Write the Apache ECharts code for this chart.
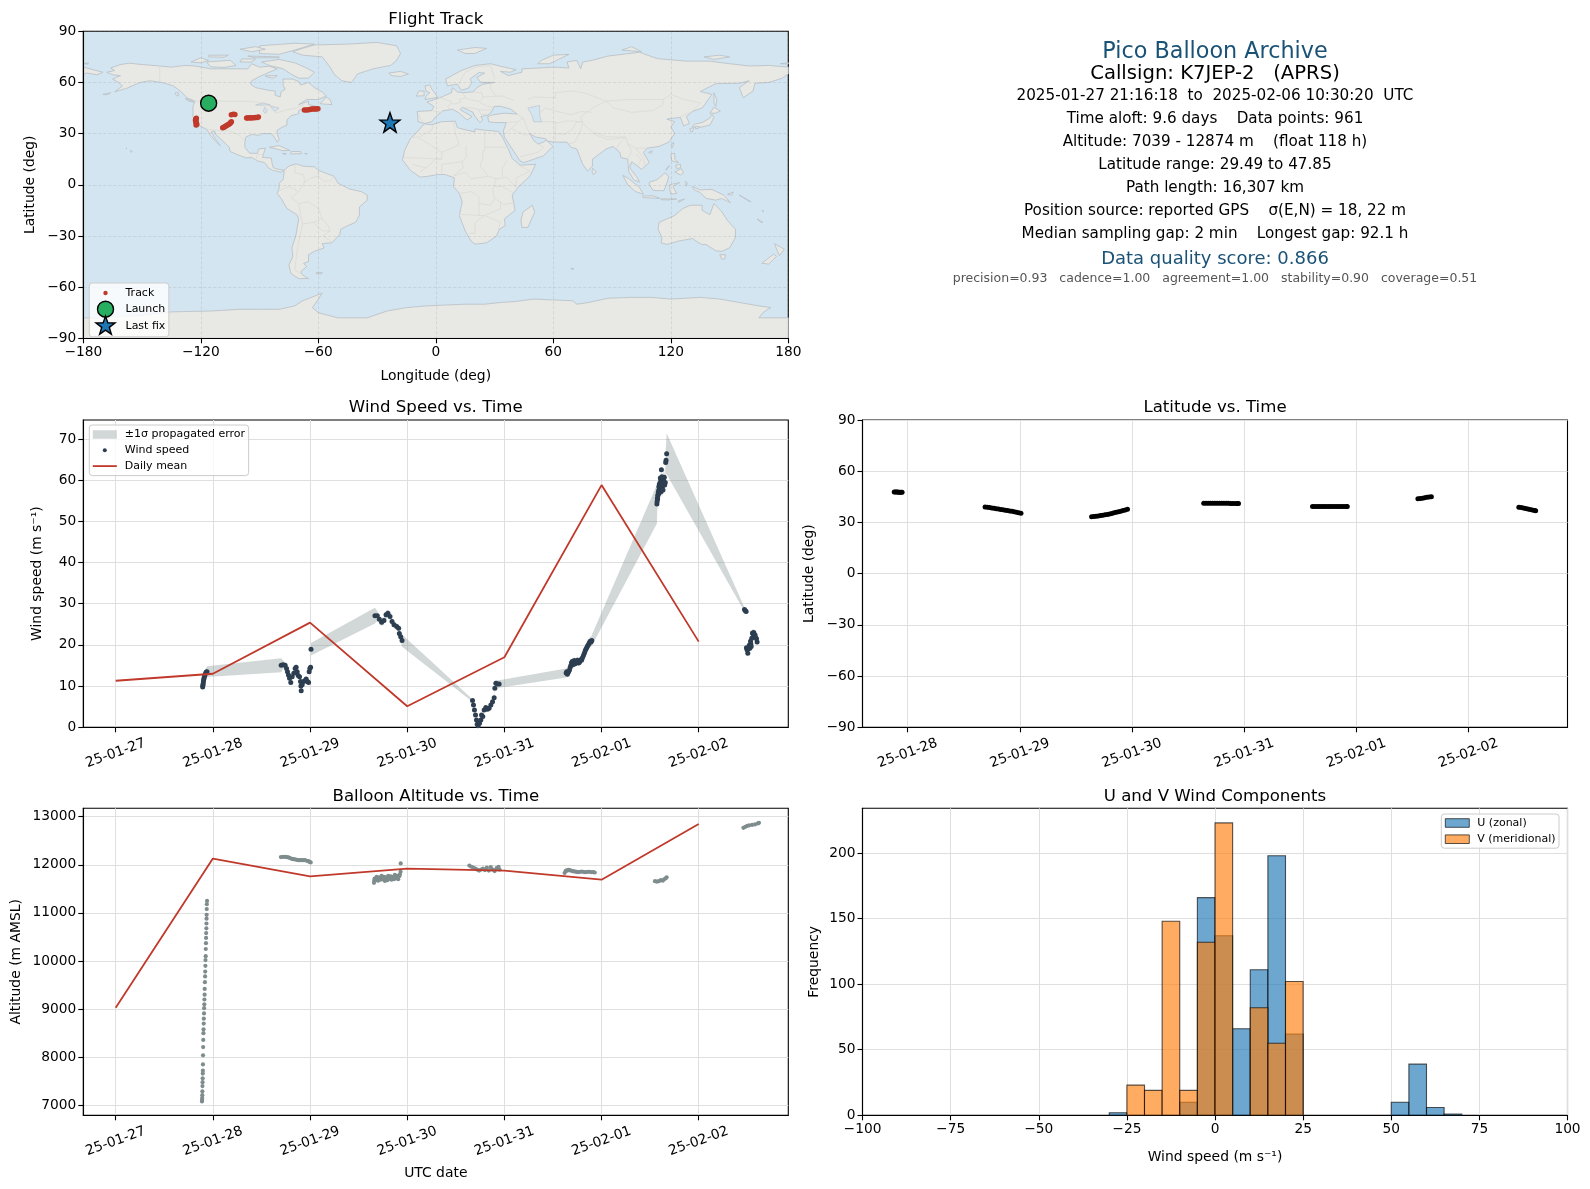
<!DOCTYPE html>
<html><head><meta charset="utf-8">
<script src="https://cdn.jsdelivr.net/npm/echarts@6/dist/echarts.min.js"></script>
<style>html,body{margin:0;padding:0;background:#fff}#c{width:1590px;height:1189px}</style>
</head><body><div id="c"></div>
<script>
// ---------- DATA ----------
const dateLabels = ['25-01-27','25-01-28','25-01-29','25-01-30','25-01-31','25-02-01','25-02-02'];
const dayTicks = [0,1,2,3,4,5,6];

const trackLon = [-122.3,-122.6,-122.7,-122.5,-122.4,-122.2,-122.1,-122.4, -108.8,-108.2,-107.6,-107,-106.4,-105.8,-105.2,-104.8,-104.4, -104.4,-103.4,-102.6, -96.6,-96,-95.2,-94.4,-93.6,-92.8,-92,-91.2,-90.6, -67.1,-66,-65,-64.2,-63.4,-62.6,-61.8,-61,-60.2];
const trackLat = [39,38.4,37.8,37.2,36.6,36,35.4,35.1, 33.5,33.8,34.2,34.6,35,35.4,35.9,36.4,37, 41.1,41.3,41.2, 39.2,39.2,39.3,39.2,39.3,39.3,39.4,39.5,39.7, 43.9,43.9,44,44.2,44.4,44.4,44.5,44.5,44.6];
const launchPoint = [-116, 47.85];
const lastFixPoint = [-23.4, 36.6];

const windT = [.895,.897,.9,.903,.906,.91,.914,.918,.925,.932,.94,
 1.703,1.723,1.744,1.758,1.768,1.778,1.789,1.802,1.816,1.833,1.847,1.857,1.868,1.878,1.892,1.902,1.906,1.909,1.919,1.933,1.947,1.96,1.974,1.985,1.991,1.998,2.006,2.01,
 2.668,2.692,2.713,2.737,2.761,2.782,2.802,2.823,2.844,2.864,2.892,2.912,2.919,2.933,2.947,
 3.672,3.682,3.692,3.703,3.713,3.72,3.73,3.744,3.758,3.765,3.778,3.792,3.809,3.826,3.843,3.861,3.878,3.895,3.902,3.912,3.93,3.946,
 4.636,4.642,4.649,4.66,4.67,4.677,4.684,4.691,4.698,4.705,4.711,4.72,4.729,4.741,4.753,4.763,4.773,4.784,4.794,4.804,4.814,4.823,4.832,4.84,4.849,4.857,4.866,4.875,4.883,4.892,4.9,
 5.57,5.572,5.575,5.577,5.579,5.581,5.584,5.588,5.59,5.592,5.595,5.598,5.601,5.603,5.605,5.608,5.61,5.612,5.614,5.616,5.619,5.622,5.625,5.628,5.632,5.636,5.64,5.646,5.65,5.656,5.66,5.664,5.67,
 6.471,6.48,6.488,6.491,6.497,6.505,6.51,6.515,6.522,6.526,6.533,6.537,6.54,6.546,6.553,6.56,6.567,6.574,6.58,6.586,6.595,6.601];
const windSpeed = [9.8,10.2,10.6,11.1,11.6,12,12.4,12.7,13.1,13.4,13.5,
 15.06,15.2,15.06,14.3,13.5,12.7,11.9,10.9,12.3,13.1,14.3,14.6,13.5,12.55,12.3,11.1,10,8.9,10.3,11.1,11.3,11.7,11.1,10.85,13.5,14.25,14.6,18.95,
 27.1,27.05,26.2,25.5,25.9,27.3,27.7,26.9,25.7,24.9,24.45,24.05,22.8,22,21.05,
 6.48,5.43,4.2,3,1.78,.73,.4,.97,1.78,3,2.6,4.2,4.78,4.37,4.6,5.4,6.2,7.2,9.5,10.7,10.5,10.5,
 13.2,13.5,12.9,13.4,13.9,14.5,15,15.7,16,15.2,15.5,16.2,15.4,16,16.3,15.6,15.8,16.4,16.3,16.9,17.4,18,18.6,19,19.4,19.8,20.1,20.5,20.9,20.7,21.1,
 54.2,54.8,55.6,55.4,56.2,56.4,57,57.5,58.4,56.8,59,58,59.3,57.4,60.5,58.6,59.8,57.2,60.2,62.5,58,60.8,59.3,58.6,57.6,59.6,60.4,60.7,58.8,59.4,64.3,64.8,66.4,
 28.6,28.3,28.1,19.3,18.8,18,19,19.4,20,19.2,20.9,20.2,19.6,21.6,22.9,22.6,23,22.1,22.4,21.8,21.5,20.7];
const windErr = [.7,.7,.7,.8,.8,.8,.9,1,1.1,1.2,1.3,
 1.7,1,.7,.6,.6,.6,.7,.7,.7,.7,.8,.7,.7,.7,.7,.8,.8,.9,.7,.7,.7,.7,.7,.7,.8,.8,.9,1.5,
 1.9,1.2,1,.9,.9,1,.9,.9,.9,.8,.8,.8,1,1.2,1.5,
 .3,.3,.3,.3,.4,.4,.4,.4,.4,.4,.4,.4,.4,.4,.4,.4,.5,.6,.7,.8,.9,.9,
 1.1,1,.9,.9,.8,.8,.8,.8,.9,.9,.9,.9,.8,.9,.9,.8,.8,.8,.8,.8,.8,.9,.9,.9,1,1,1.1,1.1,1.2,1.2,1.3,
 4.7,3,2.5,2.2,2.2,2,2,2,2,2,2,2,2,2,2,2,2,2,2,2,2,2,2,2,2,2,2,2,2,2.2,3,3.5,5,
 .5,.5,.5,1,1,1,1,1,1,1,1,1,1,1,1,1,1,1,1,1,1,1];

const meanDays = [0,1,2,3,4,5,6];
const windMean = [11.3,13,25.4,5.1,17,58.8,20.8];
const altMean = [9030,12130,11760,11920,11880,11690,12850];

const latT = [.88,.89,.9,.91,.92,.93,.94,.95,
 1.69,1.71,1.73,1.75,1.77,1.79,1.81,1.83,1.85,1.87,1.89,1.91,1.93,1.95,1.97,1.99,2.01,
 2.64,2.66,2.68,2.7,2.72,2.74,2.76,2.78,2.8,2.82,2.84,2.86,2.88,2.9,2.92,2.94,2.96,
 3.64,3.66,3.68,3.7,3.72,3.74,3.76,3.78,3.8,3.82,3.84,3.86,3.88,3.9,3.92,3.94,3.95,
 4.61,4.63,4.65,4.67,4.69,4.71,4.73,4.75,4.77,4.79,4.81,4.83,4.85,4.87,4.89,4.91,4.92,
 5.55,5.57,5.59,5.61,5.63,5.65,5.67,
 6.45,6.47,6.49,6.51,6.53,6.55,6.57,6.59,6.6];
const latV = [47.85,47.85,47.8,47.8,47.75,47.7,47.75,47.7,
 39.1,38.9,38.7,38.5,38.3,38,37.8,37.6,37.4,37.2,37,36.7,36.5,36.2,36,35.7,35.4,
 33.4,33.5,33.6,33.8,34,34.2,34.5,34.7,35,35.3,35.6,35.9,36.2,36.6,37,37.3,37.7,
 41.2,41.2,41.3,41.3,41.3,41.2,41.2,41.2,41.2,41.2,41.2,41.2,41.1,41.1,41.1,41.1,41.1,
 39.3,39.3,39.3,39.3,39.3,39.3,39.4,39.4,39.4,39.4,39.3,39.3,39.3,39.3,39.3,39.3,39.3,
 43.8,44,44.2,44.4,44.7,44.9,45.1,
 38.9,38.7,38.4,38.2,37.9,37.6,37.3,37,36.9];

const altT = [.888,.889,.89,.891,.892,.893,.894,.895,.896,.897,.898,.899,.9,.901,.903,.904,.906,.907,.909,.91,.912,.913,.915,.916,.918,.92,.921,.923,.924,.926,.927,.929,.93,.931,.933,.934,.935,.936,.937,.938,.94,
 1.7,1.722,1.744,1.761,1.778,1.795,1.812,1.829,1.846,1.864,1.881,1.898,1.915,1.932,1.949,1.966,1.983,1.995,2.007,
 2.658,2.662,2.665,2.675,2.685,2.69,2.7,2.71,2.72,2.728,2.737,2.745,2.754,2.762,2.771,2.78,2.788,2.796,2.805,2.813,2.822,2.83,2.839,2.847,2.856,2.865,2.873,2.881,2.89,2.898,2.907,2.912,2.918,2.925,2.932,2.933,
 3.64,3.66,3.68,3.7,3.72,3.74,3.76,3.78,3.8,3.82,3.84,3.86,3.88,3.9,3.92,3.94,3.95,
 4.62,4.63,4.64,4.65,4.66,4.67,4.685,4.7,4.715,4.73,4.745,4.76,4.78,4.8,4.82,4.84,4.86,4.88,4.9,4.915,4.93,
 5.55,5.57,5.59,5.61,5.63,5.645,5.66,5.67,
 6.46,6.48,6.5,6.52,6.55,6.58,6.61,6.62];
const altV = [7080,7110,7150,7210,7290,7400,7480,7560,7660,7720,7850,8040,8210,8360,8500,8580,8700,8800,8910,9020,9100,9200,9300,9420,9560,9680,9780,9900,10020,10100,10250,10370,10480,10580,10680,10780,10880,10960,11080,11180,11250,
 12160,12165,12167,12160,12153,12140,12125,12118,12111,12104,12097,12097,12097,12097,12097,12085,12076,12060,12049,
 11625,11680,11715,11700,11750,11680,11670,11740,11715,11690,11770,11720,11695,11750,11665,11740,11715,11680,11770,11710,11715,11760,11690,11730,11750,11700,11790,11730,11736,11770,11700,11760,11764,11800,11854,12028,
 11985,11960,11940,11920,11900,11880,11900,11920,11890,11940,11880,11950,11900,11870,11930,11960,11900,
 11830,11870,11885,11880,11895,11890,11880,11870,11865,11860,11855,11850,11855,11860,11850,11850,11855,11855,11845,11850,11840,
 11660,11650,11660,11680,11670,11700,11720,11740,
 12770,12790,12810,12820,12830,12840,12860,12874];

const binStarts = [-30,-25,-20,-15,-10,-5,0,5,10,15,20,50,55,60,65];
const binWidth = 5;
const uCounts = [2,0,0,0,10,166,137,66,111,198,62,10,39,6,1];
const vCounts = [0,23,19,148,19,132,223,0,82,55,102,0,0,0,0];

const infoLines = ['Pico Balloon Archive','Callsign: K7JEP-2   (APRS)','2025-01-27 21:16:18  to  2025-02-06 10:30:20  UTC','Time aloft: 9.6 days    Data points: 961','Altitude: 7039 - 12874 m    (float 118 h)','Latitude range: 29.49 to 47.85','Path length: 16,307 km','Position source: reported GPS    σ(E,N) = 18, 22 m','Median sampling gap: 2 min    Longest gap: 92.1 h','Data quality score: 0.866','precision=0.93   cadence=1.00   agreement=1.00   stability=0.90   coverage=0.51'];

// base-map outlines (lon, lat)
const landPolys = [
[[-168,66],[-164,67],[-166,68.5],[-161,70.5],[-156.5,71.3],[-150,70.5],[-141,69.7],[-135,69],[-128,70],[-123,69.7],[-115,68],[-108,68],[-100,68],[-96,68],[-94,71],[-90,69],[-85,69.5],[-81,68],[-87,65],[-90,63.5],[-94,61],[-94.5,59],[-92,57],[-85,55.3],[-82,55],[-82,52.5],[-79.5,51.5],[-79,54.5],[-77,56],[-78,58.5],[-78,62],[-73,62],[-70,60.5],[-69,58.5],[-65,60],[-62,57],[-58,54.5],[-56,52],[-60,50],[-66,50],[-70,47],[-65,49],[-65,47],[-61,46],[-64,44.5],[-67,45],[-70,43.5],[-70,41.7],[-74,40.5],[-76,38],[-76,35],[-78,34],[-81,32],[-81,30],[-80,26.5],[-81,25],[-82.5,28],[-84,30],[-89,30],[-90,29],[-94,29.5],[-97,28],[-97.5,25],[-97.5,22],[-95,18.5],[-91,18.5],[-90.5,21],[-87,21.5],[-88,18],[-88.5,16],[-84,15.7],[-83.5,12],[-83,10],[-80,9],[-77.5,8.5],[-79,7.3],[-81,8],[-83,8.3],[-85.5,10],[-87.5,13],[-91,14],[-94,16],[-97,15.8],[-101,17.5],[-105,19.5],[-105.5,22],[-109,26],[-112,29],[-113,31.5],[-114.7,31],[-112,26],[-110,23],[-112,25],[-115,29],[-117,32.5],[-120.5,34.5],[-122.5,37.5],[-124,40],[-124,46],[-123,49],[-127,51],[-130,54.5],[-134,58],[-140,60],[-146,61],[-151,60],[-153,59],[-158,56.5],[-164,54.5],[-160,58],[-162,60],[-165,62],[-161,64],[-165,64.5]],
[[-73,78],[-68,80],[-62,82],[-45,82.5],[-30,83.5],[-20,81.5],[-18,77],[-20,73],[-23,70],[-32,68],[-40,65],[-43,60],[-48,61],[-52,65],[-54,69],[-58,75],[-68,76]],
[[-80,73.5],[-72,71.5],[-67,69],[-62,66],[-65,62.5],[-70,62.5],[-74,65],[-78,68],[-85,70],[-89,72]],
[[-117,72],[-105,73],[-102,70],[-108,68.8],[-115,69.2]],
[[-90,77],[-80,76.5],[-72,79],[-62,82.5],[-72,83],[-90,81.5]],
[[-125,72],[-120,74.5],[-116,73],[-120,71.5]],
[[-96,75.5],[-80,75],[-80,74.5],[-92,74.5]],
[[-116,76],[-106,76],[-108,74.8],[-116,75]],
[[-100,79.5],[-92,81],[-87,79.5],[-94,78]],
[[-99,73.8],[-92,73.8],[-94,72],[-100,72]],
[[-87,64],[-81,64],[-83,62.5],[-87,63.5]],
[[-59,47.5],[-53,47],[-54,50],[-56,51.5]],
[[-128,50.6],[-124,49],[-123.5,48.4],[-126,49]],
[[-133,54],[-131.5,54],[-131.5,52],[-133,53]],
[[-85,22],[-80,23],[-74.5,20.2],[-78,20]],
[[-74,19.5],[-69,19.5],[-68.5,18.3],[-74,18]],
[[-78.3,18.4],[-76.3,18.2],[-77,17.8]],
[[-67,18.4],[-65.6,18.3],[-66,18]],
[[-156,20.2],[-155,19.7],[-155.6,19]],
[[-158,21.6],[-157.7,21.3],[-158.2,21.3]],
[[-170,53],[-166,54],[-168,52.8]],
[[-180,69],[-175,67.5],[-170,66],[-173,64.5],[-178,65.5],[-180,65]],
[[-77.5,8.5],[-75,11],[-71.5,12.3],[-68,11],[-62,10.5],[-60,8.5],[-52,5],[-50,1],[-44,-2.5],[-38,-4],[-35,-6],[-35,-9],[-39,-13],[-39,-18],[-41,-22],[-45,-24],[-48.5,-26],[-49,-29],[-53,-34],[-58,-34.5],[-57,-37],[-62,-39],[-65,-41],[-65,-45],[-67.5,-46],[-66,-48],[-69,-51],[-68,-53],[-65,-55],[-70,-55],[-74,-52],[-75,-47],[-73,-42],[-73.5,-37],[-71.5,-30],[-70,-20],[-71,-17.5],[-76,-14],[-79,-8],[-81,-5],[-80,-2],[-80,1],[-78,3],[-77.5,7]],
[[-61,-51.5],[-58,-51.5],[-58.5,-52.3],[-61,-52.2]],
[[-6,35.7],[-2,35.2],[3,37],[10,37.3],[11,33.5],[15,32.3],[20,31],[20,32.8],[25,32],[32,31.3],[34,28],[37,21],[39,15.5],[43,11.5],[51,12],[48,5],[42,-1.5],[39,-6],[40.5,-15],[35,-20],[35.5,-24],[32.5,-26],[31,-30],[26,-34],[20,-34.8],[18,-33],[15,-27],[12,-18],[13.5,-10],[12,-5],[9,-1],[9.5,4],[5,6],[1,6],[-4,5],[-8,4.5],[-13,8.5],[-17,14.5],[-16,20],[-13,27],[-9.5,31]],
[[-9,37],[-9.5,43],[-2,43.5],[-1,46],[-4.5,48.5],[2,51],[8,54],[8.5,57],[11,54.5],[14,54],[19,54.5],[21,57],[24,59],[30,60],[23,60],[21,63],[25,65.5],[22,65.8],[17.5,62],[18.5,60],[16.5,56.5],[13,55.5],[11,59],[6,58],[5,62],[13,67],[20,70],[28,71],[33,69.5],[41,67.5],[38,66],[33,66.5],[37,64],[44,66],[44,68],[53,68.5],[60,69],[68,68.5],[67,72],[72,73],[74,68],[75,72],[80,73],[88,75.5],[104,77.7],[113,74],[128,72.5],[140,72.5],[150,71],[160,69.7],[170,70],[180,69],[180,65],[177,62.5],[170,60],[163,59.5],[162,55],[157,51],[155,57],[160,61],[155,59.5],[143,59.3],[135,54.7],[141,53],[136,45],[131,43],[128,40],[129.5,36],[126.5,34.5],[125,39.5],[121,39],[118,38.5],[122,37],[120,34],[122,30],[119,25],[114,22.5],[108,21.5],[106,19],[109,13],[105,9],[103,11],[100,13.5],[99,10],[103,4],[104,1.5],[101,3],[98.5,8],[98,15],[94.5,16],[94,19],[90.5,22.5],[87,21],[80,15],[80,11],[77.5,8],[75,12],[73,18],[72,21],[69,22],[67,25],[61,25],[57,25.5],[56,27],[51,28],[48,30],[50,26],[52,24],[55,25],[56.5,26.3],[59.8,22.5],[55,17],[45,13],[43,14],[39,21],[35,28],[34.5,31.5],[36,36.5],[30,36.5],[27,37],[26.5,40],[29,41],[35,42],[41.5,41.5],[38,44.5],[33,46],[30,46],[28,42],[26,40.7],[23,40],[24,38],[22.5,36.5],[19.5,41],[19,42.5],[13.5,45.5],[12.5,44],[18.5,40],[16,38],[12,42],[8.5,44.3],[3.5,43.3],[0,40],[-2,37],[-5.5,36]],
[[-5.5,50],[1,51.3],[0,53],[-2,56],[-3,58.5],[-5.5,58],[-5,55],[-3,54],[-5,52]],
[[-10,52],[-6,52.2],[-6,55],[-8.5,55]],
[[-24,65.5],[-18,66.5],[-14,65],[-18,63.5],[-22.5,64]],
[[11,79],[20,80.5],[26,80],[20,77],[15,77]],
[[52,71],[58,71],[68,76.5],[60,76],[54,73]],
[[95,79],[105,78],[100,81]],
[[137,75],[145,76],[150,75],[142,73.5]],
[[-180,71],[-177.5,71.5],[-177.5,70.8]],
[[176,71],[180,71.5],[180,70.8]],
[[142,54],[143.5,50],[143,46],[142,48]],
[[131,34],[135,33.7],[140,35],[142,39.5],[141,41.3],[139.8,39],[136,36.5],[132,35.5]],
[[140,42],[142,45.5],[145.3,43.3],[143,42]],
[[129.8,33],[131.7,33.5],[131,31],[130,31.3]],
[[132.5,34],[134.5,34.2],[134,33],[132.7,32.9]],
[[120,23],[121.5,25],[121,22]],
[[108.7,19],[110.5,20],[110,18.3]],
[[80,9.7],[82,7.5],[80.5,6],[79.8,7.5]],
[[120,18],[122,18.5],[122,15],[124,13],[120.5,14]],
[[122,7.5],[125.5,9.5],[126.5,7],[125,5.8]],
[[122.5,11.5],[125,12],[125,10],[123,9.5]],
[[118,10],[119.5,11.3],[117.5,8.5]],
[[95.5,5.5],[98,4],[104,-1.5],[106,-5.5],[102,-4],[98,0]],
[[105.5,-6.5],[111,-6.5],[114.5,-8],[106,-7.5]],
[[115,-8.2],[119,-8.3],[123,-8.3],[119,-8.9],[115,-8.8]],
[[124,-9.3],[127,-8.4],[124,-10.2]],
[[109,1.5],[113,3],[117,7],[119,5],[118,1],[116.5,-3.5],[111,-3.3],[109,0]],
[[119.5,0],[124.5,1.3],[121,-1],[123,-5],[120,-5.5],[119.5,-3]],
[[127.5,2],[128.5,1],[128,-.8]],
[[131,-1],[135,-3],[141,-2.7],[147,-6],[150.5,-10.5],[146,-8],[143,-9],[138,-8],[135,-4.5],[132,-3]],
[[149,-5.5],[152,-4.2],[151,-6.2]],
[[155,-6],[158,-8],[161,-10],[159,-9]],
[[166.5,-15],[167.5,-16],[167,-15]],
[[164,-20],[167,-22],[166,-22]],
[[114,-22],[122,-18],[126,-14],[130,-12],[136,-12],[136,-15],[140,-17.5],[142,-11],[145.5,-15],[149,-21],[153,-26],[153,-31],[150,-37],[146,-39],[143,-38.7],[138,-35],[136,-35],[135,-34.5],[131,-31.5],[124,-33],[118,-35],[115,-34],[115.5,-31],[113.5,-26]],
[[145,-41],[148,-41],[147.5,-43.5],[146,-43.5]],
[[173,-34.5],[178,-37.8],[175.5,-41.5],[174.5,-39]],
[[172.5,-40.6],[174,-42],[170,-46.5],[166.5,-46]],
[[49.3,-12],[50.5,-16],[47,-25],[44,-25],[43.5,-21],[44.5,-16]],
[[69,-49],[70.5,-49.2],[69.5,-49.7]],
[[-180,-78],[-170,-78],[-158,-77],[-150,-76.5],[-135,-74.5],[-115,-74],[-100,-73],[-90,-73],[-80,-73],[-72,-71],[-68,-68],[-58,-63.5],[-60,-67],[-63,-72],[-60,-75],[-50,-78],[-35,-78],[-25,-74],[-15,-72],[-5,-71],[5,-70.5],[15,-70],[25,-70],[33,-69],[40,-68.5],[50,-67],[60,-67.5],[70,-68],[72,-70],[78,-69],[88,-66.5],[100,-66],[110,-66],[120,-67],[135,-66],[145,-67],[155,-69],[165,-71],[171,-72],[167,-75],[165,-78],[175,-78],[180,-78],[180,-90],[-180,-90]]
];
const waterPolys = [
[[47,45],[53,46.5],[53,41],[54,37],[50,37],[49,41]],
[[-88,48],[-84.5,46.8],[-89,46.7],[-92,46.8]],
[[-87.5,45.5],[-86,44],[-87,41.8],[-88,43]],
[[-84.5,46],[-80,45],[-82,43.2],[-83.5,44.5]]
];
const borderLines = [
[[-123,49],[-95,49],[-89,48],[-83,46],[-82,42],[-76,44],[-71,45],[-68,47],[-67,45]],
[[-141,69.7],[-141,60]],[[-117,32.5],[-108,31.5],[-106,31.7],[-101,29.5],[-97.5,26]],[[-92,14.5],[-91,17.8],[-89,17.8]],
[[-72,11.5],[-72,7],[-67.5,6],[-67,1.5]],
[[-60,5],[-64,4],[-67,1.5],[-70,-4],[-74,-7.5],[-70,-11],[-65,-10],[-60,-14],[-58,-20],[-55,-24],[-54,-27],[-57.5,-30],[-53,-33.5]],
[[-80,-3.5],[-75,-1],[-70,-4]],[[-70,-11],[-69,-17],[-70,-18.5]],[[-69,-18],[-68,-23],[-70,-33],[-71,-40],[-72,-50],[-69,-52]],
[[-68,-23],[-62.5,-22],[-58,-20]],[[-60,8],[-60,5],[-57,2],[-54,2.3],[-52,5]],[[-62.5,-22],[-58,-27],[-54,-27]],
[[-1.5,35],[-2,32],[-8.7,28],[-13,27.7]],[[-8.7,27.5],[-5,25],[3,19],[12,23.5],[10,30],[9,37]],
[[25,32],[25,20],[24,20],[24,15.5],[22.5,11],[27,5],[31,3.5],[34,4],[36,4.5],[41,-1.5]],[[25,22],[37,22]],[[36.5,14.5],[34,10],[34,4.5]],
[[3,19],[3,15],[0,15],[-5,10],[-8,7.5]],[[15.5,23],[15.5,16],[13.5,13.5],[14,10],[9,5]],[[3,12],[3,6.5]],[[3,12],[13.5,13.5]],
[[12,-5],[18,-4],[22,-7],[22,-11],[28,-12],[30,-8],[29,-3],[30,1],[31,3.5]],[[15,7.5],[18,3.5],[27,5]],
[[12,-17.3],[23,-18],[25,-18]],[[22,-11],[22,-18]],[[17,-28.5],[20,-28.5],[20,-22],[25,-18],[33,-22],[32,-26]],
[[30,-1],[34,-1],[39.5,-4.6]],[[30,-8],[34.5,-11.5],[40.5,-10.5]],[[33,-9.5],[33,-14],[30,-15.5],[25,-18]],[[41,-1.5],[41,4],[48,8],[43,11]],
[[-16.5,16],[-5,15.5],[3,15]],[[-12,12],[-5,10]],[[15,7.5],[9,5]],
[[-1.5,43.3],[3,42.4]],[[-9,42],[-7,37]],[[2.5,51],[6,49.5],[8,49],[7.5,47.5],[6,46],[7.5,44]],[[14,54],[15,51],[12,50],[13,48.5],[10,47.5],[7.5,47.5]],
[[19,54.3],[23.5,54],[24,50.5],[22.5,49],[19,49.5],[15,51]],[[40,49.5],[34,52],[31,52],[24,51.5]],[[22.5,48],[28,45.5],[30,46]],
[[22,44],[28.5,43.7]],[[13.5,45.5],[19,45],[22,44],[23,41.3],[26,41.5]],[[28,60],[28,56],[31,52]],[[30,62],[29,66],[28,70]],[[12,59],[12.5,61],[15,66],[20,69],[28,70]],
[[47,50],[50,51.5],[61,51],[61,54],[70,55],[77,53.5],[87,49]],[[87,49],[98,50],[108,50],[116,50],[120,53],[127,50],[135,48],[131,43]],
[[87,49],[91,45],[100,42.5],[111,43.5],[116,47],[116,50]],[[87,49],[80,45],[74,40],[75,36],[80,31],[88,28],[97,28],[98,24],[102,21.5],[108,21.5]],
[[53,42],[56,45],[62,43],[69,41],[74,43],[80,42.5]],[[44.5,39.5],[46,35],[48,30]],[[61,37],[61,30],[61,25]],[[53.5,37],[61,37]],
[[36,36.5],[42,37],[44.5,39],[41.5,41.5]],[[38.5,33],[42,37]],[[35,29.5],[38.5,33],[46,29],[48,30]],[[43,16.5],[52,19],[55,22],[52,24]],
[[61,30],[66,29.5],[70,33],[71.5,36.5],[75,37],[67,37.5],[61,36]],[[68,24],[71,25],[74,32],[75,36]],[[80,30],[88,26.5],[92,27],[97,28]],
[[92,21],[94,24.5],[97,28]],[[98,24],[100,20],[98,15],[99,11]],[[102,18],[105,15],[103,11]],[[102,21.5],[106,16],[107,11]],[[125,40],[130,42.5]]
];

// ---------- STYLE ----------
const FONT = '"DejaVu Sans"';
const RED='#c0392b', NAVY='#2c3e50', GREY='#7f8c8d', GREEN='#27ae60', BLUE='#1f77b4', ORANGE='#ff7f0e', TITLEBLUE='#1a5276';
const STAR='M12 0L14.35 6.76L21.51 6.91L15.8 11.24L17.88 18.09L12 14L6.12 18.09L8.2 11.24L2.49 6.91L9.65 6.76Z';
const PW=705;
const grids=[
 {left:83.3,top:31.3,width:PW,height:307,backgroundColor:'#d3e5f1'},
 {left:83.3,top:420,width:PW,height:307.3},
 {left:862.5,top:420,width:PW,height:307.3},
 {left:83.3,top:808.3,width:PW,height:307},
 {left:862.5,top:808.3,width:PW,height:307}
].map(g=>Object.assign({show:true,borderColor:'#000',borderWidth:1.1},g));
const minus=v=>String(v).replace('-','\u2212');
function axis(kind,gi,o){
  const custom=o.custom;
  const a={type:'value',gridIndex:gi,min:o.min,max:o.max,scale:false,z:o.z||0,
    axisLine:{show:true,onZero:false,lineStyle:{color:'#000',width:1.1}},
    axisTick:{show:true,length:5,inside:false,lineStyle:{color:'#000',width:1.1}},
    axisLabel:{show:true,color:'#000',fontFamily:FONT,fontSize:13.75,margin:7,formatter:o.fmt||minus,hideOverlap:false,showMinLabel:true,showMaxLabel:true},
    splitLine:{show:true,lineStyle:o.split||{color:'#dfdfdf',width:1}},
    nameLocation:'middle',nameGap:o.gap||0,name:o.name||'',nameTextStyle:{color:'#000',fontFamily:FONT,fontSize:13.9}};
  if(custom){a.axisTick.customValues=custom;a.axisLabel.customValues=custom;}
  if(o.interval)a.interval=o.interval;
  if(o.dates){Object.assign(a.axisLabel,{rotate:20,align:'center',verticalAlign:'middle',margin:26,formatter:v=>dateLabels[v]});}
  return a;
}
const mapSplit={color:'rgba(120,120,120,.17)',width:1,type:[3,2]};
const xAxes=[
 axis('x',0,{min:-180,max:180,interval:60,z:3,split:mapSplit,name:'Longitude (deg)',gap:31}),
 axis('x',1,{min:-0.3334,max:6.922,custom:dayTicks,dates:true}),
 axis('x',2,{min:0.597,max:6.884,custom:dayTicks.slice(1),dates:true}),
 axis('x',3,{min:-0.3334,max:6.922,custom:dayTicks,dates:true,name:'UTC date',gap:51}),
 axis('x',4,{min:-100,max:100,interval:25,name:'Wind speed (m s\u207B\u00B9)',gap:35})
];
const yAxes=[
 axis('y',0,{min:-90,max:90,interval:30,z:3,split:mapSplit,name:'Latitude (deg)',gap:46}),
 axis('y',1,{min:0,max:74.6,custom:[0,10,20,30,40,50,60,70],name:'Wind speed (m s\u207B\u00B9)',gap:39}),
 axis('y',2,{min:-90,max:90,interval:30,name:'Latitude (deg)',gap:46}),
 axis('y',3,{min:6792,max:13175,custom:[7000,8000,9000,10000,11000,12000,13000],name:'Altitude (m AMSL)',gap:60}),
 axis('y',4,{min:0,max:234.15,custom:[0,50,100,150,200],name:'Frequency',gap:41})
];

const zip=(a,b)=>a.map((v,i)=>[v,b[i]]);
function polyRender(list,style){
  return (params,api)=>({type:'polygon',shape:{points:list[api.value(0)].map(p=>api.coord(p))},style,silent:true});
}
function histRender(color){
  return (params,api)=>{
    const a=api.coord([api.value(0),api.value(2)]), b=api.coord([api.value(1),0]);
    if(api.value(2)<=0) return null;
    return {type:'rect',shape:{x:a[0],y:a[1],width:b[0]-a[0],height:b[1]-a[1]},style:{fill:color,stroke:'#000',lineWidth:1.1,opacity:.65}};
  };
}
function bandRender(params,api){
  const up=windT.map((t,i)=>api.coord([t,windSpeed[i]+windErr[i]]));
  const lo=windT.map((t,i)=>api.coord([t,windSpeed[i]-windErr[i]])).reverse();
  return {type:'polygon',shape:{points:up.concat(lo)},style:{fill:GREY,opacity:.35},silent:true};
}
const series=[
 {type:'custom',name:'land',xAxisIndex:0,yAxisIndex:0,z:1,silent:true,clip:true,data:landPolys.map((_,i)=>[i]),renderItem:polyRender(landPolys,{fill:'#e8e8e4',stroke:'#b8bfc4',lineWidth:.8,lineJoin:'round'})},
 {type:'custom',name:'borders',xAxisIndex:0,yAxisIndex:0,z:1,silent:true,clip:true,data:borderLines.map((_,i)=>[i]),
  renderItem:(p,api)=>({type:'polyline',shape:{points:borderLines[api.value(0)].map(q=>api.coord(q))},style:{fill:null,stroke:'#d9d9d4',lineWidth:.7},silent:true})},
 {type:'custom',name:'water',xAxisIndex:0,yAxisIndex:0,z:1,silent:true,clip:true,data:waterPolys.map((_,i)=>[i]),renderItem:polyRender(waterPolys,{fill:'#d3e5f1',stroke:'#b8bfc4',lineWidth:.6})},
 {type:'scatter',name:'Track',xAxisIndex:0,yAxisIndex:0,z:4,symbolSize:5.5,itemStyle:{color:RED,opacity:1},data:zip(trackLon,trackLat)},
 {type:'scatter',name:'Launch',xAxisIndex:0,yAxisIndex:0,z:5,symbolSize:16,itemStyle:{color:GREEN,opacity:1,borderColor:'#000',borderWidth:1.4},data:[launchPoint]},
 {type:'scatter',name:'Last fix',xAxisIndex:0,yAxisIndex:0,z:5,symbol:'path://'+STAR,symbolSize:[20,19.5],itemStyle:{color:BLUE,opacity:1,borderColor:'#000',borderWidth:1.4},data:[lastFixPoint]},

 {type:'custom',name:'\u00B11\u03C3 propagated error',xAxisIndex:1,yAxisIndex:1,z:2,silent:true,clip:true,itemStyle:{color:GREY},data:[[0]],renderItem:bandRender},
 {type:'scatter',name:'Wind speed',xAxisIndex:1,yAxisIndex:1,z:3,symbolSize:5,itemStyle:{color:NAVY,opacity:1},clip:true,data:zip(windT,windSpeed)},
 {type:'line',name:'Daily mean',xAxisIndex:1,yAxisIndex:1,z:4,showSymbol:false,symbol:'none',lineStyle:{color:RED,width:1.8},data:zip(meanDays,windMean)},

 {type:'scatter',name:'Latitude',xAxisIndex:2,yAxisIndex:2,z:3,symbolSize:5,itemStyle:{color:'#000',opacity:1},data:zip(latT,latV)},

 {type:'scatter',name:'Altitude',xAxisIndex:3,yAxisIndex:3,z:3,symbolSize:4.2,itemStyle:{color:GREY,opacity:1},data:zip(altT,altV)},
 {type:'line',name:'Daily mean altitude',xAxisIndex:3,yAxisIndex:3,z:4,showSymbol:false,symbol:'none',lineStyle:{color:RED,width:1.8},data:zip(meanDays,altMean)},

 {type:'custom',name:'U (zonal)',xAxisIndex:4,yAxisIndex:4,z:3,itemStyle:{color:BLUE},encode:{x:[0,1],y:2},data:binStarts.map((s,i)=>[s,s+binWidth,uCounts[i]]),renderItem:histRender(BLUE)},
 {type:'custom',name:'V (meridional)',xAxisIndex:4,yAxisIndex:4,z:4,itemStyle:{color:ORANGE},encode:{x:[0,1],y:2},data:binStarts.map((s,i)=>[s,s+binWidth,vCounts[i]]),renderItem:histRender(ORANGE)}
];

const legendBase={orient:'vertical',align:'left',backgroundColor:'rgba(255,255,255,.8)',borderColor:'#ccc',borderWidth:1,borderRadius:3,selectedMode:false,itemWidth:24,
  textStyle:{fontFamily:FONT,fontSize:11,color:'#000',padding:[0,0,0,3]}};
const dot=(w,h,r)=>`path://M0 0M${w} ${h}M${w/2+r} ${h/2}A${r} ${r} 0 1 1 ${w/2-r} ${h/2}A${r} ${r} 0 1 1 ${w/2+r} ${h/2}Z`;
const legends=[
 Object.assign({},legendBase,{left:89.3,top:283,itemHeight:20,itemGap:-4.5,padding:[0,3.5,0,3.5],
  data:[{name:'Track',icon:dot(24,20,2.2),itemStyle:{color:RED,opacity:1}},
        {name:'Launch',icon:dot(24,20,8),itemStyle:{color:GREEN,opacity:1,borderColor:'#000',borderWidth:1.4}},
        {name:'Last fix',icon:'path://M0 0M24 20M12 0L14.35 6.76L21.51 6.91L15.8 11.24L17.88 18.09L12 14L6.12 18.09L8.2 11.24L2.49 6.91L9.65 6.76Z',itemStyle:{color:BLUE,opacity:1,borderColor:'#000',borderWidth:1.4}}]}),
 Object.assign({},legendBase,{left:89.3,top:425,itemHeight:12,itemGap:3.8,padding:[3.5,3.5,3.5,3.5],
  data:[{name:'\u00B11\u03C3 propagated error',icon:'path://M0 0M24 12M0 1.7H24V10.3H0Z',itemStyle:{color:GREY,opacity:.35}},
        {name:'Wind speed',icon:dot(24,12,2),itemStyle:{color:NAVY,opacity:1}},
        {name:'Daily mean',icon:'path://M0 0M24 12M0 5.1H24V6.9H0Z',itemStyle:{color:RED,opacity:1}}]}),
 Object.assign({},legendBase,{right:31,top:814,itemHeight:10,itemGap:5.2,padding:[3.5,3.5,3.5,3.5],
  data:[{name:'U (zonal)',icon:'path://M0 0M24 10M0 .7H24V9.3H0Z',itemStyle:{color:BLUE,borderColor:'#000',borderWidth:1,opacity:.65}},
        {name:'V (meridional)',icon:'path://M0 0M24 10M0 .7H24V9.3H0Z',itemStyle:{color:ORANGE,borderColor:'#000',borderWidth:1,opacity:.65}}]})
];

const plotTitles=[['Flight Track',435.8,18.3],['Wind Speed vs. Time',435.8,405.8],['Latitude vs. Time',1215,405.8],['Balloon Altitude vs. Time',435.8,795],['U and V Wind Components',1215,795]];
const titles=plotTitles.map(t=>({text:t[0],left:t[1],top:t[2]-7,textAlign:'center',padding:0,textStyle:{fontFamily:FONT,fontSize:16.6,fontWeight:'normal',color:'#000'}}));

const infoY=[52.2,74.3,95.6,118.9,142.3,164.6,187.9,211.3,234.3,258.9,279.1];
const infoSize=[22.3,19.6,15.2,15.2,15.2,15.2,15.2,15.2,15.2,18,12.5];
const infoColor=[TITLEBLUE,'#000','#000','#000','#000','#000','#000','#000','#000',TITLEBLUE,'#555'];
const graphics=infoLines.map((s,i)=>({type:'text',x:1215,y:infoY[i],silent:true,style:{text:s,textAlign:'center',textVerticalAlign:'middle',fontFamily:FONT,fontSize:infoSize[i],fill:infoColor[i]}}));

const chart=echarts.init(document.getElementById('c'),null,{renderer:'canvas'});
chart.setOption({animation:false,backgroundColor:'#fff',textStyle:{fontFamily:FONT},title:titles,legend:legends,grid:grids,xAxis:xAxes,yAxis:yAxes,series,graphic:graphics,tooltip:{show:false}});
</script></body></html>
